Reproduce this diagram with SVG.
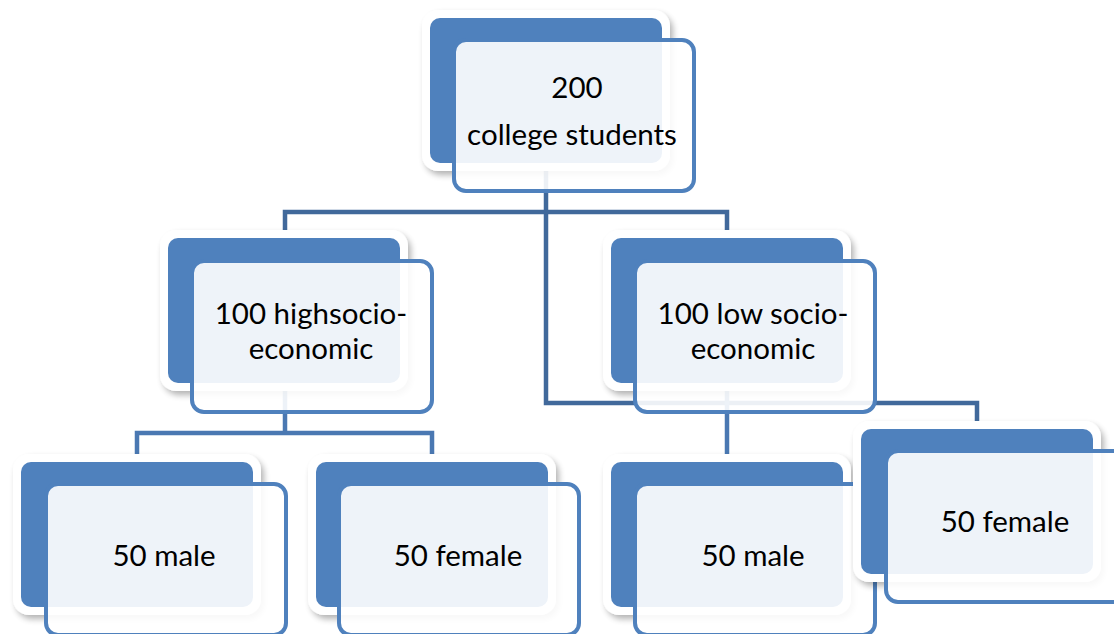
<svg xmlns="http://www.w3.org/2000/svg" width="1114" height="634" viewBox="0 0 1114 634">
<defs>
<filter id="sh" x="-20%" y="-20%" width="140%" height="140%">
<feGaussianBlur in="SourceAlpha" stdDeviation="3"/>
<feOffset dx="3" dy="4" result="b"/>
<feComponentTransfer><feFuncA type="linear" slope="0.3"/></feComponentTransfer>
<feMerge><feMergeNode/><feMergeNode in="SourceGraphic"/></feMerge>
</filter>
<style>
.halo{fill:#ffffff;filter:url(#sh)}
.back{fill:#4F81BD}
.front{fill:#ffffff;fill-opacity:0.9;stroke:#4F81BD;stroke-width:4}
.t{font-family:Lato,"Liberation Sans",sans-serif;font-size:29.5px;fill:#000;text-anchor:middle}
.c1{fill:none;stroke:#41699B;stroke-width:4.5}
.c2{fill:none;stroke:#4A78B2;stroke-width:4.5}
</style>
</defs>
<rect width="1114" height="634" fill="#ffffff"/>
<g id="connectors">
<path class="c1" d="M546 150 V403 H977 V440"/>
<path class="c1" d="M285 250 V212 H727 V250"/>
<path class="c2" d="M285 380 V433 H137 V470 M285 433 H432 V470"/>
<path class="c2" d="M727 380 V470"/>
</g>
<g id="n200">
<rect class="halo" x="422" y="10" width="248" height="161" rx="16"/>
<rect class="back" x="430" y="18" width="232" height="145" rx="10"/>
<rect class="front" x="454" y="40" width="240" height="151" rx="12"/>
<text class="t" x="577" y="98">200</text>
<text class="t" x="572" y="145">college students</text>
</g>
<g id="nHigh">
<rect class="halo" x="160" y="230" width="248" height="161" rx="16"/>
<rect class="back" x="168" y="238" width="232" height="145" rx="10"/>
<rect class="front" x="192" y="261" width="240" height="151" rx="12"/>
<text class="t" x="311" y="324">100 highsocio-</text>
<text class="t" x="311" y="359">economic</text>
</g>
<g id="nLow">
<rect class="halo" x="603" y="230" width="248" height="161" rx="16"/>
<rect class="back" x="611" y="238" width="232" height="145" rx="10"/>
<rect class="front" x="635" y="261" width="240" height="151" rx="12"/>
<text class="t" x="753" y="324">100 low socio-</text>
<text class="t" x="753" y="359">economic</text>
</g>
<g id="nMaleHigh">
<rect class="halo" x="13" y="454" width="248" height="161" rx="16"/>
<rect class="back" x="21" y="462" width="232" height="145" rx="10"/>
<rect class="front" x="46" y="484" width="240" height="151" rx="12"/>
<text class="t" x="164" y="566">50 male</text>
</g>
<g id="nFemaleHigh">
<rect class="halo" x="308" y="454" width="248" height="161" rx="16"/>
<rect class="back" x="316" y="462" width="232" height="145" rx="10"/>
<rect class="front" x="339" y="484" width="240" height="151" rx="12"/>
<text class="t" x="458" y="566">50 female</text>
</g>
<g id="nMaleLow">
<rect class="halo" x="603" y="454" width="248" height="161" rx="16"/>
<rect class="back" x="611" y="462" width="232" height="145" rx="10"/>
<rect class="front" x="635" y="484" width="240" height="151" rx="12"/>
<text class="t" x="753" y="566">50 male</text>
</g>
<g id="nFemaleLow">
<rect class="halo" x="853" y="421" width="248" height="161" rx="16"/>
<rect class="back" x="861" y="429" width="232" height="145" rx="10"/>
<rect class="front" x="886" y="451" width="240" height="151" rx="12"/>
<text class="t" x="1005" y="532">50 female</text>
</g>
</svg>
